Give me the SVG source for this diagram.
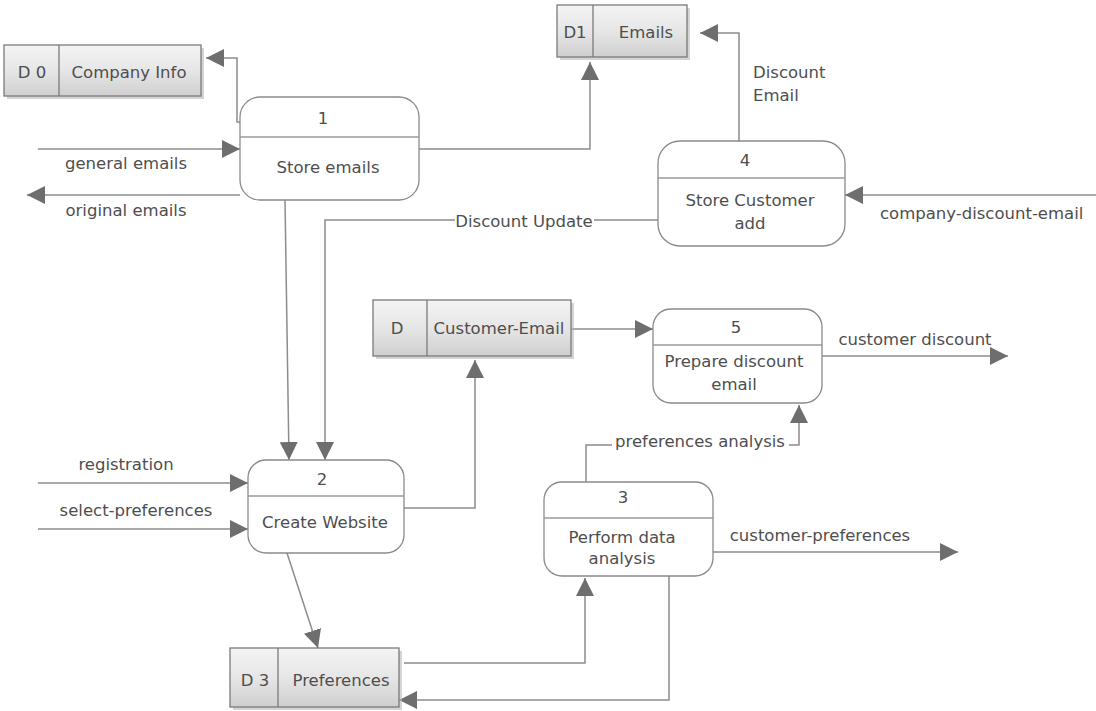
<svg xmlns="http://www.w3.org/2000/svg" width="1096" height="711" viewBox="0 0 1096 711">
  <defs>
    <linearGradient id="storeFill" x1="0" y1="0" x2="0" y2="1">
      <stop offset="0" stop-color="#f4f4f4"/>
      <stop offset="0.5" stop-color="#e6e6e6"/>
      <stop offset="1" stop-color="#cfcfcf"/>
    </linearGradient>
    <marker id="arrow" viewBox="0 0 10 10" refX="10" refY="5" markerWidth="18" markerHeight="18" markerUnits="userSpaceOnUse" orient="auto">
      <path d="M0,0 L10,5 L0,10 z" fill="#6e6e6e"/>
    </marker>
    <style>
      .flow-a { fill: none; stroke: #8c8c8c; stroke-width: 1.5; marker-end: url(#arrow); }
      .proc { fill: #ffffff; stroke: #8a8a8a; stroke-width: 1.3; }
      .div { stroke: #9a9a9a; stroke-width: 1.3; }
      .store { fill: url(#storeFill); stroke: #7a7a7a; stroke-width: 1.3; }
      .shadow { fill: #b8b8b8; opacity: 0.6; }
      .sdiv { stroke: #7a7a7a; stroke-width: 1.3; }
      text { font-family: "DejaVu Sans", Verdana, sans-serif; font-size: 16.5px; fill: #4e4e4e; }
      .c { text-anchor: middle; }
      .lbl-bg { fill: #ffffff; }
    </style>
  </defs>

  <rect width="1096" height="711" fill="#ffffff"/>

  <!-- data flows -->
  <g id="connectors">
    <!-- process 1 -> Company Info -->
    <path class="flow-a" d="M240,122 L237,122 L237,58 L206,58"/>
    <!-- general emails -->
    <path class="flow-a" d="M38,149 L240,149"/>
    <!-- original emails -->
    <path class="flow-a" d="M240,195 L27,195"/>
    <!-- process 1 -> Emails -->
    <path class="flow-a" d="M419,149 L590,149 L590,62"/>
    <!-- process 4 -> Emails -->
    <path class="flow-a" d="M739,141 L739,33 L700,33"/>
    <!-- company-discount-email -->
    <path class="flow-a" d="M1096,195 L845,195"/>
    <!-- process 1 -> process 2 -->
    <path class="flow-a" d="M285,200 L289,460"/>
    <!-- Discount Update: process 4 -> process 2 -->
    <path class="flow-a" d="M658,220 L325,220 L325,460"/>
    <!-- registration -->
    <path class="flow-a" d="M38,483 L248,483"/>
    <!-- select-preferences -->
    <path class="flow-a" d="M38,529 L248,529"/>
    <!-- process 2 -> Customer-Email -->
    <path class="flow-a" d="M404,508 L475,508 L475,360"/>
    <!-- Customer-Email -> process 5 -->
    <path class="flow-a" d="M571,329 L653,329"/>
    <!-- customer discount -->
    <path class="flow-a" d="M822,356 L1008,356"/>
    <!-- preferences analysis: process 3 -> process 5 -->
    <path class="flow-a" d="M586,482 L586,445 L799,445 L799,405"/>
    <!-- customer-preferences -->
    <path class="flow-a" d="M713,552 L958,552"/>
    <!-- process 3 -> Preferences -->
    <path class="flow-a" d="M669,576 L669,700 L399,700"/>
    <!-- Preferences -> process 3 -->
    <path class="flow-a" d="M404,663 L585,663 L585,578"/>
    <!-- process 2 -> Preferences -->
    <path class="flow-a" d="M287,553 L318,648"/>

    <!-- flow labels -->
    <text class="c" x="126" y="169">general emails</text>
    <text class="c" x="126" y="216">original emails</text>
    <text x="753" y="78">Discount</text>
    <text x="753" y="101">Email</text>
    <text x="880" y="219">company-discount-email</text>
    <rect class="lbl-bg" x="455" y="210" width="139" height="20"/>
    <text class="c" x="524" y="227">Discount Update</text>
    <text class="c" x="126" y="470">registration</text>
    <text class="c" x="136" y="516">select-preferences</text>
    <text class="c" x="915" y="345">customer discount</text>
    <rect class="lbl-bg" x="612" y="434" width="177" height="18"/>
    <text class="c" x="700" y="447">preferences analysis</text>
    <text class="c" x="820" y="541">customer-preferences</text>
  </g>

  <!-- data stores -->
  <g id="store-d0">
    <rect class="shadow" x="7" y="48" width="197" height="51"/>
    <rect class="store" x="4" y="45" width="197" height="51"/>
    <line class="sdiv" x1="59" y1="45" x2="59" y2="96"/>
    <text class="c" x="32" y="78">D 0</text>
    <text class="c" x="129" y="78">Company Info</text>
  </g>
  <g id="store-d1">
    <rect class="shadow" x="560" y="8" width="130" height="52"/>
    <rect class="store" x="557" y="5" width="130" height="52"/>
    <line class="sdiv" x1="593" y1="5" x2="593" y2="57"/>
    <text class="c" x="575" y="38">D1</text>
    <text class="c" x="646" y="38">Emails</text>
  </g>
  <g id="store-customer-email">
    <rect class="shadow" x="376" y="303" width="198" height="56"/>
    <rect class="store" x="373" y="300" width="198" height="56"/>
    <line class="sdiv" x1="427" y1="300" x2="427" y2="356"/>
    <text class="c" x="397" y="334">D</text>
    <text class="c" x="499" y="334">Customer-Email</text>
  </g>
  <g id="store-d3">
    <rect class="shadow" x="233" y="651" width="169" height="59"/>
    <rect class="store" x="230" y="648" width="169" height="59"/>
    <line class="sdiv" x1="278" y1="648" x2="278" y2="707"/>
    <text class="c" x="255" y="686">D 3</text>
    <text class="c" x="341" y="686">Preferences</text>
  </g>

  <!-- processes -->
  <g id="process-1">
    <rect class="proc" x="240" y="97" width="179" height="103" rx="20"/>
    <line class="div" x1="240" y1="137" x2="419" y2="137"/>
    <text class="c" x="323" y="124">1</text>
    <text class="c" x="328" y="173">Store emails</text>
  </g>
  <g id="process-2">
    <rect class="proc" x="248" y="460" width="156" height="93" rx="18"/>
    <line class="div" x1="248" y1="496" x2="404" y2="496"/>
    <text class="c" x="322" y="485">2</text>
    <text class="c" x="325" y="528">Create Website</text>
  </g>
  <g id="process-3">
    <rect class="proc" x="544" y="482" width="169" height="94" rx="18"/>
    <line class="div" x1="544" y1="518" x2="713" y2="518"/>
    <text class="c" x="623" y="503">3</text>
    <text class="c" x="622" y="543">Perform data</text>
    <text class="c" x="622" y="564">analysis</text>
  </g>
  <g id="process-4">
    <rect class="proc" x="658" y="141" width="187" height="105" rx="22"/>
    <line class="div" x1="658" y1="178" x2="845" y2="178"/>
    <text class="c" x="745" y="166">4</text>
    <text class="c" x="750" y="206">Store Customer</text>
    <text class="c" x="750" y="229">add</text>
  </g>
  <g id="process-5">
    <rect class="proc" x="653" y="309" width="169" height="94" rx="18"/>
    <line class="div" x1="653" y1="345" x2="822" y2="345"/>
    <text class="c" x="736" y="333">5</text>
    <text class="c" x="734" y="367">Prepare discount</text>
    <text class="c" x="734" y="390">email</text>
  </g>
</svg>
